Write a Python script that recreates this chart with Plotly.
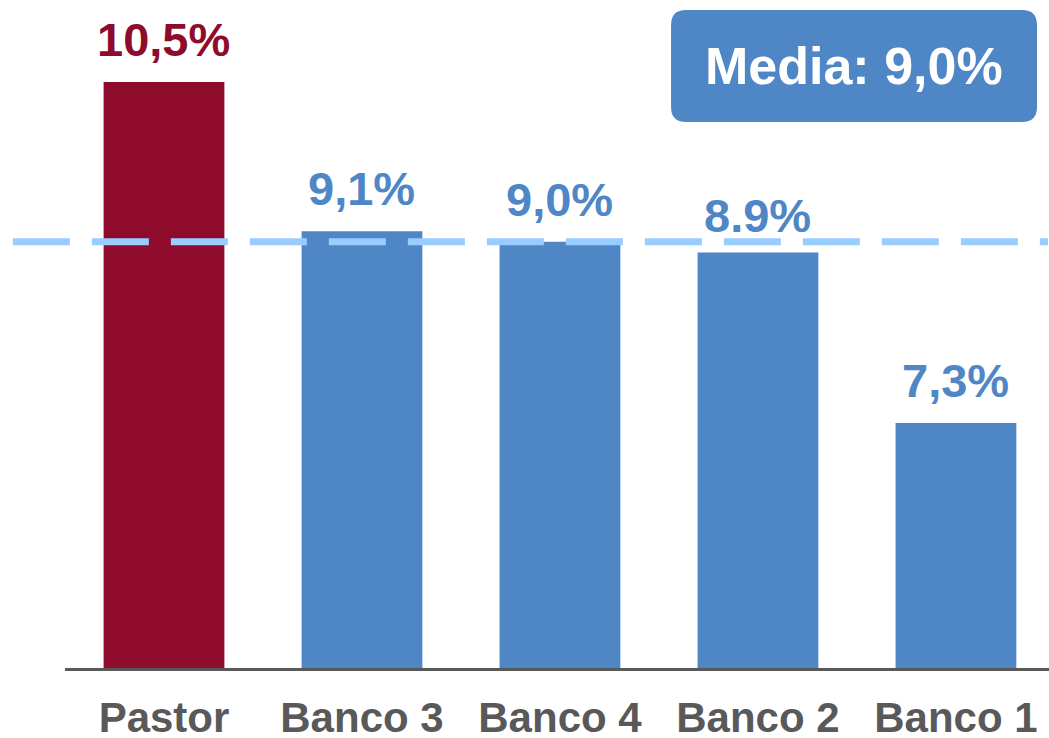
import plotly.graph_objects as go

# ---- data ----
categories = ["Pastor", "Banco 3", "Banco 4", "Banco 2", "Banco 1"]
values = [10.5, 9.1, 9.0, 8.9, 7.3]
value_labels = ["10,5%", "9,1%", "9,0%", "8.9%", "7,3%"]
media_value = 9.0
media_label = "Media: 9,0%"

# ---- styles ----
RED = "#8E0B2C"
BLUE = "#4F86C6"
DASH = "#99CCFF"
GREY = "#595959"
FONT = "Liberation Sans, Arial, sans-serif"
bar_colors = [RED] + [BLUE] * (len(categories) - 1)
label_colors = bar_colors
label_yshift = [14, 14, 14, 9, 14]

fig = go.Figure()
fig.add_trace(go.Bar(
    x=categories, y=values, marker=dict(color=bar_colors, line=dict(width=0)),
    width=0.61, hoverinfo="skip", showlegend=False,
))

for cat, v, lab, col, dy in zip(categories, values, value_labels, label_colors, label_yshift):
    fig.add_annotation(
        x=cat, y=v, text=f"<b>{lab}</b>", showarrow=False,
        xref="x", yref="y", yanchor="bottom", yshift=dy,
        font=dict(family=FONT, size=47, color=col),
    )

# mean dashed line
fig.add_shape(
    type="line", xref="paper", yref="y",
    x0=-0.053, x1=0.999, y0=media_value, y1=media_value,
    line=dict(color=DASH, width=7, dash="57px,22px"), layer="above",
)

# rounded box for media label
x0, x1, y0, y1 = 0.6159, 0.9878, 0.8174, 0.985
rx, ry = 15 / 984, 15 / 668
path = (
    f"M {x0+rx},{y0} L {x1-rx},{y0} Q {x1},{y0} {x1},{y0+ry} "
    f"L {x1},{y1-ry} Q {x1},{y1} {x1-rx},{y1} "
    f"L {x0+rx},{y1} Q {x0},{y1} {x0},{y1-ry} "
    f"L {x0},{y0+ry} Q {x0},{y0} {x0+rx},{y0} Z"
)
fig.add_shape(type="path", path=path, xref="paper", yref="paper",
              fillcolor=BLUE, line=dict(width=0), layer="above")
fig.add_annotation(
    x=(x0 + x1) / 2, y=(y0 + y1) / 2, xref="paper", yref="paper",
    text=f"<b>{media_label}</b>", showarrow=False,
    xanchor="center", yanchor="middle",
    font=dict(family=FONT, size=52, color="white"),
)

fig.update_layout(
    width=1049, height=738,
    margin=dict(l=65, r=0, t=0, b=70, autoexpand=False),
    paper_bgcolor="white", plot_bgcolor="white",
    hovermode=False,
    xaxis=dict(
        range=[-0.5, 4.47], showgrid=False, zeroline=False,
        showline=True, linecolor=GREY, linewidth=3,
        ticks="", ticklabelstandoff=11, automargin=False,
        tickfont=dict(family=FONT, size=42, color=GREY),
        tickprefix="<b>", ticksuffix="</b>",
    ),
    yaxis=dict(range=[5, 11.27], visible=False, showgrid=False,
               zeroline=False, automargin=False),
)

fig.write_html(
    "out.html",
    config={"displayModeBar": False, "staticPlot": True},
    post_script="document.body.style.margin='0';document.body.style.overflow='hidden';",
)
